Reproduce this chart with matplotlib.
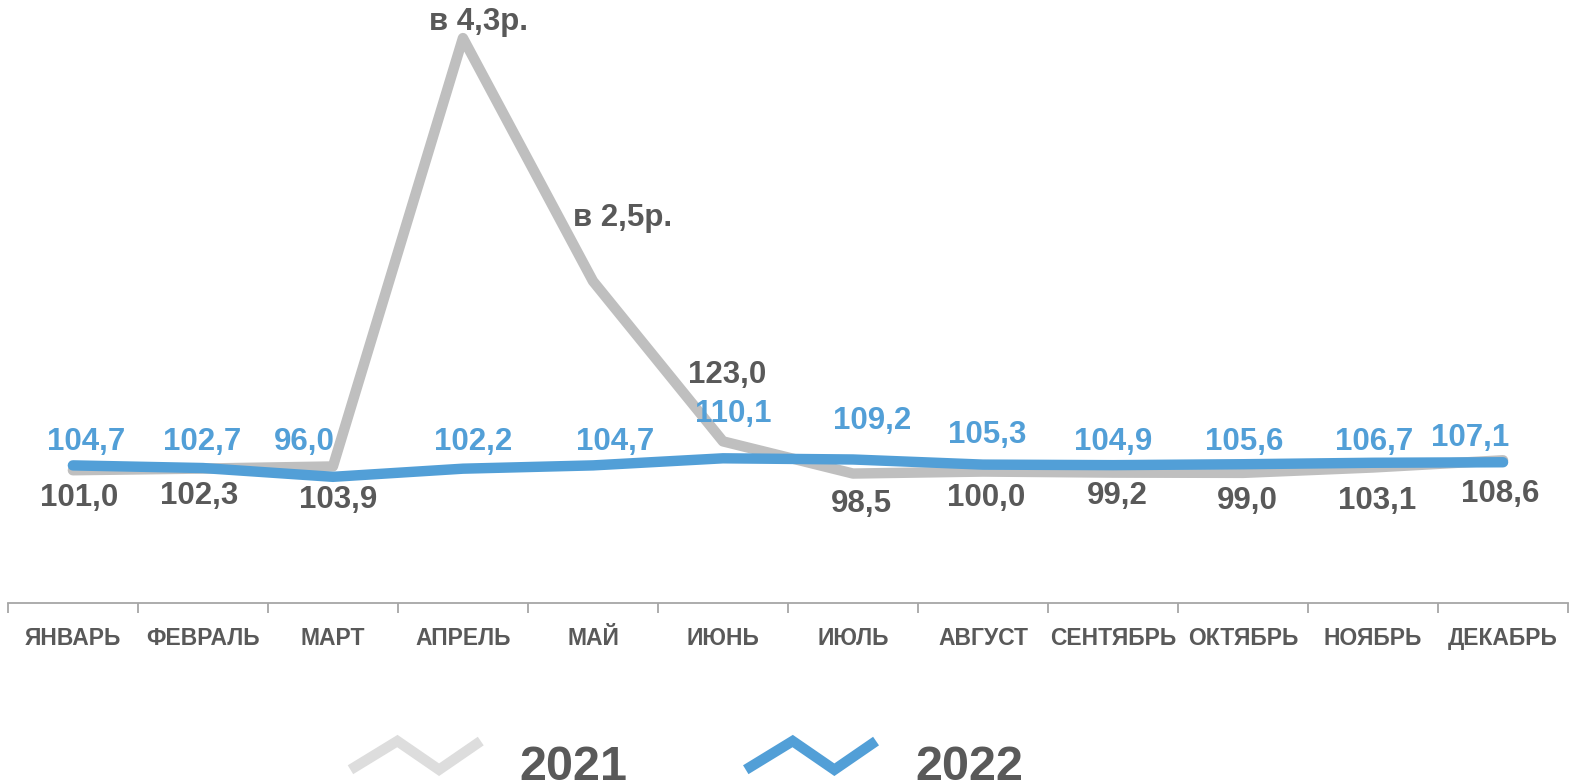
import numpy as np
import matplotlib.pyplot as plt
from matplotlib.legend_handler import HandlerBase
from matplotlib.lines import Line2D

months = ["ЯНВАРЬ", "ФЕВРАЛЬ", "МАРТ", "АПРЕЛЬ", "МАЙ", "ИЮНЬ",
          "ИЮЛЬ", "АВГУСТ", "СЕНТЯБРЬ", "ОКТЯБРЬ", "НОЯБРЬ", "ДЕКАБРЬ"]
v2021 = [101.0, 102.3, 103.9, 430.0, 245.0, 123.0, 98.5, 100.0, 99.2, 99.0, 103.1, 108.6]
v2022 = [104.7, 102.7, 96.0, 102.2, 104.7, 110.1, 109.2, 105.3, 104.9, 105.6, 106.7, 107.1]
lab2021 = ["101,0", "102,3", "103,9", "в 4,3р.", "в 2,5р.", "123,0",
           "98,5", "100,0", "99,2", "99,0", "103,1", "108,6"]
lab2022 = ["104,7", "102,7", "96,0", "102,2", "104,7", "110,1",
           "109,2", "105,3", "104,9", "105,6", "106,7", "107,1"]

# label offsets in pixels (dx, dy), like Excel's auto placement
off2021 = [(6, -28), (-4, -27), (5, -34), (16, 16), (30, 63), (4, 66),
           (8, -30), (3, -26), (4, -23), (4, -28), (4, -33), (-3, -34)]
off2022 = [(13, 23), (-1, 26), (-29, 35), (10, 27), (22, 23), (10, 44),
           (19, 38), (4, 30), (0, 23), (1, 22), (1, 21), (-33, 24)]

GRAY = "#BFBFBF"
GRAY_LEG = "#DDDDDD"
BLUE = "#529FD7"
TXT = "#595959"
plt.rcParams["font.family"] = ["Liberation Sans", "DejaVu Sans"]


class ZigzagHandler(HandlerBase):
    def create_artists(self, legend, orig_handle, xdescent, ydescent,
                       width, height, fontsize, trans):
        xs = np.array([0, 0.36, 0.68, 1.0]) * width - xdescent
        mid = height / 2 - ydescent + width * 0.06
        amp = width * 0.11
        ys = mid + np.array([-amp, amp, -amp, amp])
        ln = Line2D(xs, ys, color=orig_handle.get_color(),
                    lw=orig_handle.get_linewidth(), transform=trans,
                    solid_joinstyle="miter", solid_capstyle="butt")
        return [ln]


fig = plt.figure(figsize=(15.75, 7.81), dpi=100)
ax = fig.add_axes([0.005, 0.228, 0.9906, 0.772])

x = np.arange(len(months))
l1, = ax.plot(x, v2021, color=GRAY, lw=7.5, solid_capstyle="round",
              solid_joinstyle="round", zorder=2)
l2, = ax.plot(x, v2022, color=BLUE, lw=7.5, solid_capstyle="round",
              solid_joinstyle="round", zorder=3)

ax.set_xlim(-0.5, 11.5)
ax.set_ylim(0, 459)
ax.set_yticks([])
ax.set_xticks(np.arange(-0.5, 12, 1))
ax.set_xticklabels([])
ax.set_xticks(x, minor=True)
ax.set_xticklabels(months, minor=True, fontsize=16.5, fontweight="bold",
                   color=TXT)
ax.tick_params(axis="x", which="minor", length=0, pad=17)
ax.tick_params(axis="x", which="major", length=7, color="#A6A6A6", width=1.3)
for s in ["top", "left", "right"]:
    ax.spines[s].set_visible(False)
ax.spines["bottom"].set_color("#A6A6A6")
ax.spines["bottom"].set_linewidth(1.3)

for i in range(len(x)):
    ax.annotate(lab2022[i], (x[i], v2022[i]), xytext=off2022[i],
                textcoords="offset pixels", ha="center", va="center",
                fontsize=22.5, fontweight="bold", color=BLUE, zorder=5)
    ax.annotate(lab2021[i], (x[i], v2021[i]), xytext=off2021[i],
                textcoords="offset pixels", ha="center", va="center",
                fontsize=22.5, fontweight="bold", color=TXT, zorder=5)

leg = fig.legend([l1, l2], ["2021", "2022"], loc="center",
                 bbox_to_anchor=(0.436, 0.017), ncol=2, frameon=False,
                 handler_map={Line2D: ZigzagHandler()},
                 prop={"weight": "bold", "size": 35},
                 handlelength=2.68, handletextpad=0.8, columnspacing=2.43,
                 labelcolor=TXT)
leg.legend_handles[0].set_color(GRAY_LEG)

fig.savefig("out.png", dpi=100)
